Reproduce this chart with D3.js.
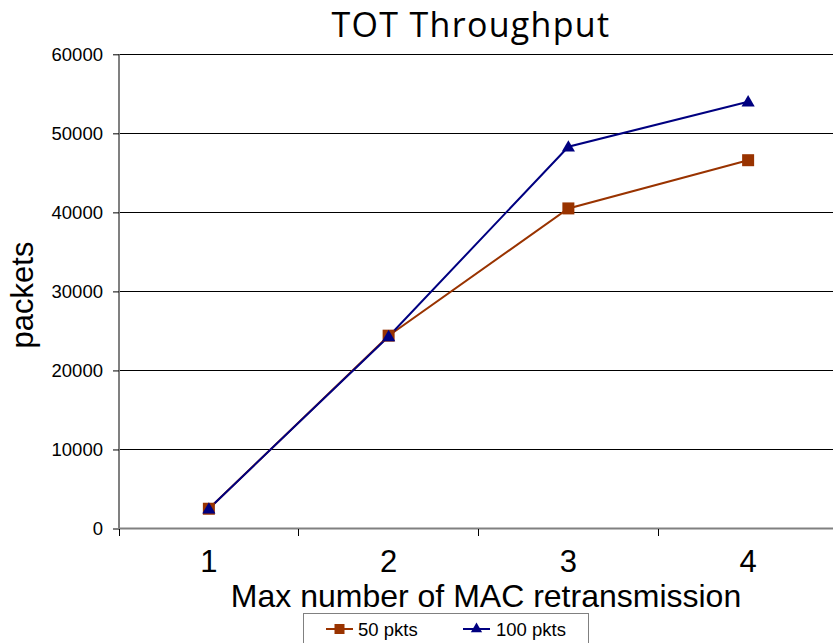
<!DOCTYPE html>
<html>
<head>
<meta charset="utf-8">
<script src="https://cdn.jsdelivr.net/npm/d3@7/dist/d3.min.js"></script>
<style>
  html, body { margin: 0; padding: 0; background: #fff; overflow: hidden; }
  svg { display: block; }
</style>
</head>
<body>
<svg id="chart" width="833" height="643"></svg>
<script>
// Data
const categories = ["1", "2", "3", "4"];
const pkts50 = [2500, 24400, 40500, 46600];
const pkts100 = [2500, 24300, 48300, 54000];
const yTicks = [0, 10000, 20000, 30000, 40000, 50000, 60000];
const seriesNames = ["50 pkts", "100 pkts"];
const seriesColors = ["#993300", "#000080"];

const svg = d3.select("#chart");
const font = "'Liberation Sans', Arial, sans-serif";

const plot = { left: 119, right: 838, top: 54.3, bottom: 528.5 };

const x = d3.scaleBand().domain(categories).range([plot.left, plot.right]).padding(0);
const y = d3.scaleLinear().domain([0, 60000]).range([plot.bottom, plot.top]);
const cx = d => x(d) + x.bandwidth() / 2;

// Horizontal gridlines
svg.append("g")
  .selectAll("line")
  .data(yTicks.filter(t => t > 0))
  .join("line")
  .attr("x1", plot.left).attr("x2", plot.right)
  .attr("y1", d => y(d)).attr("y2", d => y(d))
  .attr("stroke", "#000").attr("stroke-width", 1)
  .attr("shape-rendering", "crispEdges");

// Y axis
const yAxis = svg.append("g")
  .attr("transform", `translate(${plot.left},0)`)
  .call(d3.axisLeft(y).tickValues(yTicks).tickFormat(d3.format("d")).tickSize(6).tickPadding(10));
yAxis.select(".domain").attr("stroke", "#808080").attr("stroke-width", 2)
  .attr("d", `M0,${plot.top}V${plot.bottom + 1}`);
yAxis.selectAll(".tick line").attr("stroke", "#000");
yAxis.selectAll(".tick text")
  .attr("font-family", font).attr("font-size", 18.5).attr("fill", "#000");

// X axis
const xAxis = svg.append("g")
  .attr("transform", `translate(0,${plot.bottom})`)
  .call(d3.axisBottom(x).tickSize(0).tickPadding(21));
xAxis.select(".domain").attr("stroke", "#808080").attr("stroke-width", 2)
  .attr("d", `M${plot.left - 1},0H${plot.right}`);
xAxis.selectAll(".tick text")
  .attr("font-family", font).attr("font-size", 31).attr("fill", "#000");
// Category boundary ticks
const edges = categories.map(c => x(c)).concat([plot.right]);
xAxis.append("g").selectAll("line")
  .data(edges)
  .join("line")
  .attr("x1", d => d).attr("x2", d => d)
  .attr("y1", 0).attr("y2", 7)
  .attr("stroke", "#000").attr("stroke-width", 1)
  .attr("shape-rendering", "crispEdges");

// Series lines and markers
const line = d3.line().x((v, i) => cx(categories[i])).y(v => y(v));
const series = [pkts50, pkts100];

series.forEach((vals, si) => {
  svg.append("path")
    .datum(vals)
    .attr("d", line)
    .attr("fill", "none")
    .attr("stroke", seriesColors[si])
    .attr("stroke-width", 2);
});

// 50 pkts: squares
svg.append("g").selectAll("rect")
  .data(pkts50)
  .join("rect")
  .attr("x", (v, i) => cx(categories[i]) - 6)
  .attr("y", v => y(v) - 6)
  .attr("width", 12).attr("height", 12)
  .attr("fill", seriesColors[0]);

// 100 pkts: triangles
const tri = d3.symbol().type(d3.symbolTriangle).size(75);
svg.append("g").selectAll("path")
  .data(pkts100)
  .join("path")
  .attr("d", tri)
  .attr("transform", (v, i) => `translate(${cx(categories[i])},${y(v) + 1})`)
  .attr("fill", seriesColors[1]);

// Title
svg.append("text")
  .attr("x", 471).attr("y", 37)
  .attr("text-anchor", "middle")
  .attr("font-family", "'Open Sans', 'Noto Sans', sans-serif")
  .attr("font-size", 34)
  .attr("letter-spacing", 1.3)
  .attr("fill", "#000")
  .text("TOT Throughput");

// Axis titles
svg.append("text")
  .attr("x", 486).attr("y", 607)
  .attr("text-anchor", "middle")
  .attr("font-family", font).attr("font-size", 32)
  .attr("fill", "#000")
  .text("Max number of MAC retransmission");

svg.append("text")
  .attr("transform", "translate(33,295) rotate(-90)")
  .attr("text-anchor", "middle")
  .attr("font-family", font).attr("font-size", 31)
  .attr("fill", "#000")
  .text("packets");

// Legend
const legend = svg.append("g");
legend.append("rect")
  .attr("x", 303.5).attr("y", 613.5)
  .attr("width", 285).attr("height", 40)
  .attr("fill", "#fff").attr("stroke", "#808080").attr("stroke-width", 1);

const legendItems = [
  { lx: 326, tx: 358 },
  { lx: 463, tx: 496 }
];
legendItems.forEach((it, i) => {
  const g = legend.append("g");
  const ly = 629;
  g.append("line")
    .attr("x1", it.lx).attr("x2", it.lx + 27)
    .attr("y1", ly).attr("y2", ly)
    .attr("stroke", seriesColors[i]).attr("stroke-width", 2);
  if (i === 0) {
    g.append("rect")
      .attr("x", it.lx + 13.5 - 5).attr("y", ly - 5)
      .attr("width", 10).attr("height", 10)
      .attr("fill", seriesColors[i]);
  } else {
    g.append("path")
      .attr("d", d3.symbol().type(d3.symbolTriangle).size(55))
      .attr("transform", `translate(${it.lx + 13.5},${ly})`)
      .attr("fill", seriesColors[i]);
  }
  g.append("text")
    .attr("x", it.tx).attr("y", ly + 6.5)
    .attr("font-family", font).attr("font-size", 18.5)
    .attr("fill", "#000")
    .text(seriesNames[i]);
});
</script>
</body>
</html>
